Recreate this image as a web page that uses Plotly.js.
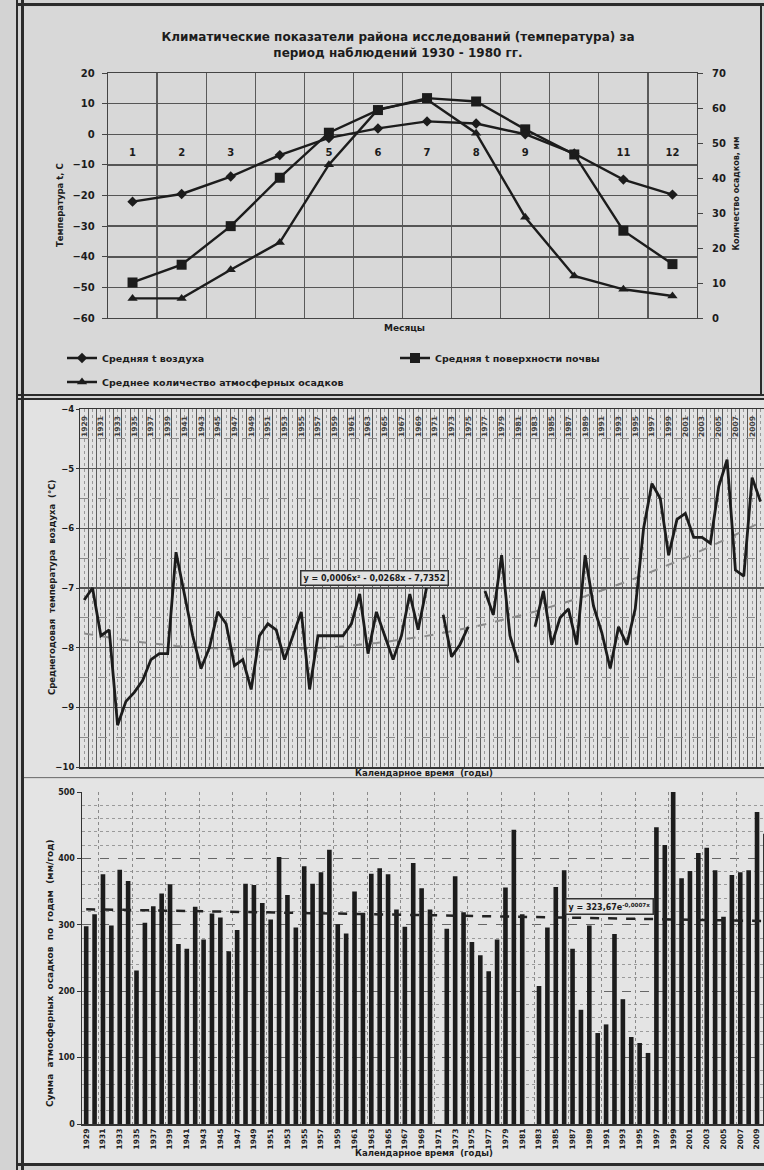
<!DOCTYPE html>
<html><head><meta charset="utf-8">
<script src="https://cdn.plot.ly/plotly-3.0.1.min.js"></script>
<style>
html,body{margin:0;padding:0;width:764px;height:1170px;overflow:hidden;background:#d3d3d3;}
#wrap{position:relative;width:764px;height:1170px;overflow:hidden;background:#d3d3d3;}
.p{position:absolute;}
.ln{position:absolute;background:#2b2b2b;}
</style></head><body><div id="wrap">
<div id="c1" class="p" style="left:24px;top:7px;width:737px;height:387px;background:#d8d8d8"></div>
<div id="c2" class="p" style="left:24px;top:400px;width:780px;height:378px;background:#e2e2e2"></div>
<div id="c3" class="p" style="left:24px;top:779px;width:780px;height:384px;background:#e4e4e4"></div>
<div class="ln" style="left:16px;top:0;width:2px;height:1170px"></div>
<div class="ln" style="left:21px;top:0;width:3px;height:1170px"></div>
<div class="ln" style="left:16px;top:3px;width:748px;height:3px"></div>
<div class="ln" style="left:760px;top:3px;width:2px;height:393px"></div>
<div class="ln" style="left:16px;top:394px;width:748px;height:2px"></div>
<div class="ln" style="left:16px;top:398px;width:748px;height:2px"></div>
<div class="ln" style="left:24px;top:777px;width:740px;height:1px;background:#777"></div>
<div class="ln" style="left:16px;top:1163px;width:748px;height:3px"></div>
</div>
<script>
// ---- Chart 1: monthly climate indicators ----
const months = [1,2,3,4,5,6,7,8,9,10,11,12];
const monthTickVals = [1,2,3,5,6,7,8,9,11,12];
const monthTickText = ['1','2','3','5','6','7','8','9','11','12'];
const airTemp  = [-22, -19.5, -13.8, -6.8, -1.2, 1.9, 4.2, 3.5, 0, -6.3, -14.8, -19.7];
const soilTemp = [-48.4, -42.6, -30, -14.2, 0.5, 7.9, 11.8, 10.7, 1.6, -6.6, -31.5, -42.4];
const precip   = [5.6, 5.6, 13.8, 21.6, 43.8, 59.6, 62.4, 52.8, 28.8, 12.0, 8.2, 6.3];

// ---- Chart 2 & 3: yearly series ----
const years = [1929,1930,1931,1932,1933,1934,1935,1936,1937,1938,1939,1940,1941,1942,1943,1944,1945,1946,1947,1948,
1949,1950,1951,1952,1953,1954,1955,1956,1957,1958,1959,1960,1961,1962,1963,1964,1965,1966,1967,1968,
1969,1970,1971,1972,1973,1974,1975,1976,1977,1978,1979,1980,1981,1982,1983,1984,1985,1986,1987,1988,
1989,1990,1991,1992,1993,1994,1995,1996,1997,1998,1999,2000,2001,2002,2003,2004,2005,2006,2007,2008,
2009,2010];
const annualTemp = [-7.2,-7.0,-7.8,-7.7,-9.3,-8.9,-8.75,-8.55,-8.2,-8.1,
-8.1,-6.4,-7.1,-7.8,-8.35,-8.0,-7.4,-7.6,-8.3,-8.2,
-8.7,-7.8,-7.6,-7.7,-8.2,-7.8,-7.4,-8.7,-7.8,-7.8,
-7.8,-7.8,-7.6,-7.1,-8.1,-7.4,-7.8,-8.2,-7.8,-7.1,
-7.7,-7.0,null,-7.45,-8.15,-7.95,-7.65,null,-7.05,-7.45,
-6.45,-7.8,-8.25,null,-7.65,-7.05,-7.95,-7.5,-7.35,-7.95,
-6.45,-7.3,-7.75,-8.35,-7.65,-7.95,-7.35,-6.0,-5.25,-5.5,
-6.45,-5.85,-5.75,-6.15,-6.15,-6.25,-5.3,-4.85,-6.7,-6.8,
-5.15,-5.55];
const annualPrecip = [298,316,376,299,383,366,231,303,328,347,
361,271,264,327,278,317,311,260,292,362,
360,333,308,402,345,296,388,362,379,413,
301,287,350,317,377,385,376,323,297,393,
355,323,null,294,373,319,274,254,230,278,
356,443,316,null,208,296,357,382,264,172,
299,137,150,286,188,131,122,107,447,420,
508,370,381,408,416,382,312,375,379,382,
470,437];
const tempTrendCoef = [0.0006, -0.0268, -7.7352];   // y = a x^2 + b x + c
const precipTrendCoef = [323.67, -0.0007];           // y = A e^(k x)
const tempEq = 'y = 0,0006x² - 0,0268x - 7,7352';
const precipEq = 'y = 323,67e<sup>-0,0007x</sup>';

const F = '"DejaVu Sans", Verdana, sans-serif';
const INK = '#1c1c1c';
const cfg = {staticPlot: true, displayModeBar: false};

// ---------- Chart 1 ----------
const bounds1 = months.map(m => m - 0.5).concat([months[months.length-1] + 0.5]);
const t1 = [
  {x: months, y: airTemp, name: 'Средняя t воздуха', type: 'scatter', mode: 'lines+markers', xaxis: 'x2',
   line: {color: INK, width: 2.4}, marker: {symbol: 'diamond', size: 8, color: INK}, legend: 'legend', showlegend: true},
  {x: months, y: soilTemp, name: 'Средняя t поверхности почвы', type: 'scatter', mode: 'lines+markers',
   line: {color: INK, width: 2.4}, marker: {symbol: 'square', size: 10, color: INK}, legend: 'legend2', showlegend: true},
  {x: months, y: precip, name: 'Среднее количество атмосферных осадков', type: 'scatter', mode: 'lines+markers',
   yaxis: 'y2', line: {color: INK, width: 2.4}, marker: {symbol: 'triangle-up', size: 9, color: INK}, legend: 'legend3', showlegend: true}
];
const lg = (x, y) => ({orientation: 'h', xref: 'container', yref: 'container', x: x, y: y, yanchor: 'middle', xanchor: 'left',
    bgcolor: 'rgba(0,0,0,0)', font: {size: 9.5, weight: 700}, visible: true});
const l1 = {
  width: 737, height: 387, margin: {l: 84, r: 64, t: 66, b: 76},
  showlegend: true,
  paper_bgcolor: 'rgba(0,0,0,0)', plot_bgcolor: 'rgba(0,0,0,0)',
  font: {family: F, size: 10, color: INK, weight: 700},
  title: {text: 'Климатические показатели района исследований (температура) за<br>период наблюдений 1930 - 1980 гг.',
    x: (398-24)/737, xref: 'container', xanchor: 'center', y: 1 - (41-7)/387, yref: 'container', yanchor: 'middle',
    font: {family: F, size: 12, weight: 700, color: INK}},
  xaxis: {range: [0.5, 12.5], tickmode: 'array', tickvals: bounds1, showticklabels: false, showgrid: true,
    gridcolor: '#5a5a5a', gridwidth: 1.3, zeroline: false, showline: true, mirror: true, linecolor: '#444', linewidth: 1.3, ticks: ''},
  xaxis2: {overlaying: 'x', range: [0.5, 12.5], anchor: 'free', position: 0.75, side: 'bottom',
    tickmode: 'array', tickvals: monthTickVals, ticktext: monthTickText, showgrid: false, zeroline: false, showline: false,
    ticks: 'outside', ticklen: 9, tickcolor: 'rgba(0,0,0,0)', tickfont: {size: 10, weight: 700}},
  yaxis: {range: [-60, 20], tick0: 0, dtick: 10, showgrid: true, gridcolor: '#555', gridwidth: 1.5, zeroline: false,
    ticks: 'outside', ticklen: 5, tickcolor: '#444', ticklabelstandoff: 5, showline: true, linecolor: '#444', linewidth: 1.3, tickfont: {size: 10, weight: 700}},
  yaxis2: {overlaying: 'y', side: 'right', range: [0, 70], dtick: 10, showgrid: false, zeroline: false,
    ticks: 'outside', ticklen: 5, tickcolor: '#444', ticklabelstandoff: 7, showline: true, linecolor: '#444', tickfont: {size: 10, weight: 700}},
  legend: lg((62-24)/737, 1 - (358-7)/387),
  legend2: lg((395-24)/737, 1 - (358-7)/387),
  legend3: lg((62-24)/737, 1 - (382-7)/387),
  annotations: [
    {text: 'Месяцы', xref: 'paper', yref: 'paper', x: (404-108)/589, y: (318-328)/245, yanchor: 'middle', showarrow: false, font: {size: 9, weight: 700}},
    {text: 'Температура t, C', xref: 'paper', yref: 'paper', x: (53-108)/589, y: (318-205)/245, textangle: -90, showarrow: false, font: {size: 8.5, weight: 700}},
    {text: 'Количество осадков, мм', xref: 'paper', yref: 'paper', x: (742-108)/589, y: (318-194)/245, textangle: -90, showarrow: false, font: {size: 8, weight: 700}}
  ]
};
Plotly.newPlot('c1', t1, l1, cfg);

// ---------- Chart 2 ----------
const xr = [years[0] - 0.5, years[years.length-1] + 1.5];
const labelYears = years.filter((y, i) => i % 2 === 0);
const trendX = years.map((y, i) => i + 1);
const tempTrend = trendX.map(x => tempTrendCoef[0]*x*x + tempTrendCoef[1]*x + tempTrendCoef[2]);
const precipTrend = trendX.map(x => precipTrendCoef[0]*Math.exp(precipTrendCoef[1]*x));

const t2 = [
  {x: years, y: tempTrend, type: 'scatter', mode: 'lines', yaxis: 'y2', line: {color: '#8c8c8c', width: 2, dash: 'dash'}, showlegend: false},
  {x: years, y: annualTemp, type: 'scatter', mode: 'lines', xaxis: 'x2', connectgaps: false, line: {color: INK, width: 2.8}, showlegend: false}
];
const l2 = {
  width: 780, height: 378, margin: {l: 56, r: 31, t: 9, b: 11},
  paper_bgcolor: 'rgba(0,0,0,0)', plot_bgcolor: 'rgba(0,0,0,0)',
  font: {family: F, size: 9, color: INK, weight: 700},
  xaxis: {range: xr, tick0: years[0] - 0.5, dtick: 1, showticklabels: false, showgrid: true, gridcolor: '#5a5a5a', gridwidth: 1,
    minor: {dtick: 0.5, showgrid: true, gridcolor: '#999', griddash: 'dot', gridwidth: 1},
    zeroline: false, showline: true, mirror: true, linecolor: '#333', linewidth: 1.5, ticks: ''},
  xaxis2: {overlaying: 'x', range: xr, side: 'top', anchor: 'y', tickmode: 'array', tickvals: labelYears,
    ticktext: labelYears.map(String), tickangle: -90, ticklabelposition: 'inside', ticklabeloverflow: 'allow',
    showgrid: false, zeroline: false, ticks: '', tickfont: {size: 7.5, weight: 700}},
  yaxis: {range: [-10, -4], dtick: 1, showgrid: true, gridcolor: '#555', gridwidth: 1.5, showticklabels: false,
    minor: {dtick: 0.5, showgrid: true, gridcolor: '#8a8a8a', griddash: 'dash', gridwidth: 1},
    zeroline: false, ticks: '', showline: true, mirror: true, linecolor: '#333', linewidth: 1.5},
  yaxis2: {overlaying: 'y', anchor: 'free', position: 0, side: 'left', range: [-10, -4], dtick: 1, showgrid: false, zeroline: false,
    ticks: 'outside', ticklen: 4, tickcolor: '#333', showline: false, tickfont: {size: 8.5, weight: 700}},
  annotations: [
    {text: tempEq, x: years[0] - 0.5 + (375-80)/8.35, y: -6.83, xref: 'x', yref: 'y', showarrow: false, bgcolor: '#e2e2e2',
     bordercolor: '#333', borderwidth: 1.5, borderpad: 2, font: {size: 8, weight: 700}},
    {text: 'Календарное время  (годы)', xref: 'paper', yref: 'paper', x: (424-80)/693, y: -0.016, yanchor: 'middle', showarrow: false, font: {size: 8.5, weight: 700}},
    {text: 'Среднегодовая  температура  воздуха  (°С)', xref: 'paper', yref: 'paper', x: (45-80)/693, y: 0.5, textangle: -90, showarrow: false, font: {size: 8.5, weight: 700}}
  ]
};
Plotly.newPlot('c2', t2, l2, cfg);

// ---------- Chart 3 ----------
const t3 = [
  {x: years, y: annualPrecip, type: 'bar', width: 0.55, marker: {color: INK}, showlegend: false},
  {x: years, y: precipTrend, type: 'scatter', mode: 'lines', xaxis: 'x2', line: {color: '#222', width: 2.5, dash: 'dash'}, showlegend: false}
];
const l3 = {
  width: 780, height: 384, margin: {l: 58, r: 26, t: 13, b: 39},
  paper_bgcolor: 'rgba(0,0,0,0)', plot_bgcolor: 'rgba(0,0,0,0)',
  font: {family: F, size: 9, color: INK, weight: 700},
  xaxis: {range: xr, tickmode: 'array', tickvals: labelYears, ticktext: labelYears.map(String), tickangle: -90,
    ticks: '', showgrid: false, zeroline: false, showline: true, linecolor: '#333', linewidth: 1.5,
    tickfont: {size: 7.5, weight: 700}},
  xaxis2: {overlaying: 'x', range: xr, tick0: years[1] + 0.5, dtick: 4, showticklabels: false, showgrid: true,
    gridcolor: '#8a8a8a', griddash: 'dot', gridwidth: 1, zeroline: false, ticks: ''},
  yaxis: {range: [0, 500], dtick: 100, showgrid: true, gridcolor: '#666', gridwidth: 1.3, griddash: 'dash',
    minor: {dtick: 20, showgrid: true, gridcolor: '#9a9a9a', griddash: 'dot', gridwidth: 1},
    zeroline: false, ticks: 'outside', ticklen: 4, tickcolor: '#333', showline: true, mirror: true, linecolor: '#333', linewidth: 1.5,
    tickfont: {size: 8, weight: 700}},
  annotations: [
    {text: precipEq, x: years[0] - 0.5 + (609-82)/8.38, y: (1124-906)/0.664, xref: 'x', yref: 'y', showarrow: false, bgcolor: '#e4e4e4',
     bordercolor: '#333', borderwidth: 1.5, borderpad: 2, font: {size: 8, weight: 700}},
    {text: 'Календарное время  (годы)', xref: 'paper', yref: 'paper', x: (424-82)/696, y: -0.087, yanchor: 'middle', showarrow: false, font: {size: 8.5, weight: 700}},
    {text: 'Сумма  атмосферных  осадков  по  годам  (мм/год)', xref: 'paper', yref: 'paper', x: (43-82)/696, y: (1124-973)/332, textangle: -90, showarrow: false, font: {size: 9, weight: 700}}
  ]
};
Plotly.newPlot('c3', t3, l3, cfg);
</script>
</body></html>
